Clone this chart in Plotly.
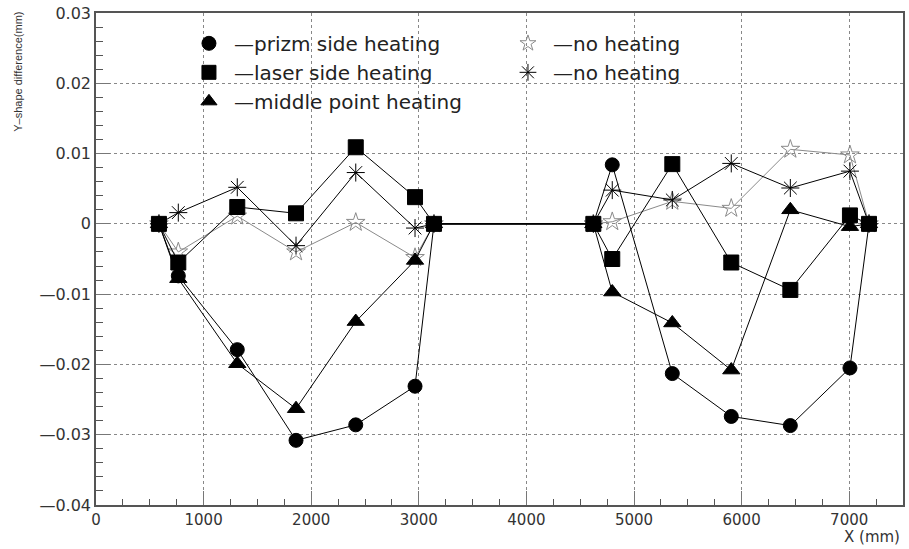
import plotly.graph_objects as go

# X positions (mm): left group and right group, each starting/ending at zero
x_pos = [585, 765, 1313, 1859, 2414, 2965, 3141,
         4622, 4798, 5356, 5904, 6453, 7007, 7184]

prizm = [0, -0.0074, -0.0179, -0.0308, -0.0286, -0.0231, 0,
         0, 0.0084, -0.0213, -0.0274, -0.0287, -0.0205, 0]
laser = [0, -0.0055, 0.0024, 0.0015, 0.0109, 0.0038, 0,
         0, -0.0050, 0.0085, -0.0055, -0.0094, 0.0012, 0]
middle = [0, -0.0078, -0.0199, -0.0263, -0.0139, -0.0052, 0,
          0, -0.0097, -0.0141, -0.0208, 0.0020, -0.0004, 0]
no_heat_star = [0, -0.0040, 0.0011, -0.0040, 0.0002, -0.0048, 0,
                0, 0.0003, 0.0032, 0.0022, 0.0106, 0.0098, 0]
no_heat_ast = [0, 0.0016, 0.0052, -0.0031, 0.0073, -0.0006, 0,
               0, 0.0048, 0.0034, 0.0086, 0.0051, 0.0075, 0]

y_tickvals = [-0.04, -0.03, -0.02, -0.01, 0, 0.01, 0.02, 0.03]
y_ticktext = ["\u20140.04", "\u20140.03", "\u20140.02", "\u20140.01", "0", "0.01", "0.02", "0.03"]
x_tickvals = [0, 1000, 2000, 3000, 4000, 5000, 6000, 7000]

legend_names = ["\u2014prizm side heating", "\u2014no heating", "\u2014laser side heating",
                "\u2014no heating", "\u2014middle point heating"]

fig = go.Figure()

series = [
    (no_heat_star, "star-open", "#8a8a8a", "#8a8a8a", 14),
    (no_heat_ast, "asterisk-open", "black", "black", 15),
    (laser, "square", "black", "black", 15),
    (middle, "triangle-up", "black", "black", 15),
    (prizm, "circle", "black", "black", 14),
]
for ys, sym, lc, mc, sz in series:
    fig.add_trace(go.Scatter(
        x=x_pos, y=ys, mode="lines+markers", showlegend=False,
        line=dict(color=lc, width=1),
        marker=dict(symbol=sym, size=sz, color=mc, line=dict(color=mc, width=1)),
    ))

# Legend-only traces (order fills rows: left column, right column)
leg_specs = [
    ("circle", "black", 14),
    ("star-open", "#8a8a8a", 12),
    ("square", "black", 14),
    ("asterisk-open", "black", 14),
    ("triangle-up", "black", 14),
]
for name, (sym, col, sz) in zip(legend_names, leg_specs):
    fig.add_trace(go.Scatter(
        x=[None], y=[None], mode="markers", name=name,
        marker=dict(symbol=sym, size=sz, color=col, line=dict(color=col, width=1)),
    ))

axis_font = dict(family="DejaVu Sans", size=15, color="#333")

fig.update_layout(
    width=909, height=549,
    margin=dict(l=96, r=6, t=13, b=44),
    plot_bgcolor="white", paper_bgcolor="white",
    font=dict(family="DejaVu Sans", color="#222"),
    showlegend=True,
    legend=dict(
        orientation="h", x=0.109, y=0.978, xanchor="left", yanchor="top",
        entrywidth=264, entrywidthmode="pixels",
        font=dict(family="DejaVu Sans", size=20, color="#222"),
        bgcolor="rgba(0,0,0,0)", itemwidth=40,
    ),
    xaxis=dict(
        range=[0, 7500], tickvals=x_tickvals, ticks="inside", ticklen=14,
        tickcolor="#777", tickwidth=1, automargin=False,
        minor=dict(dtick=250, ticks="inside", ticklen=6, tickcolor="#555", showgrid=False),
        showgrid=True, gridcolor="#888", griddash="dot", gridwidth=1,
        zeroline=False, showline=True, linecolor="#555", linewidth=1.5, mirror=True,
        tickfont=axis_font,
    ),
    yaxis=dict(
        range=[-0.04, 0.03], tickvals=y_tickvals, ticktext=y_ticktext,
        ticks="inside", ticklen=14, tickcolor="#777", tickwidth=1, automargin=False,
        minor=dict(dtick=0.002, ticks="inside", ticklen=7, tickcolor="#555", showgrid=False),
        showgrid=True, gridcolor="#888", griddash="dot", gridwidth=1,
        zeroline=False, showline=True, linecolor="#555", linewidth=1.5, mirror=True,
        tickfont=dict(family="DejaVu Sans", size=16, color="#333"),
    ),
    annotations=[
        dict(text="Y\u2013shape difference(mm)", xref="paper", yref="paper",
             x=-0.097, y=1.006, xanchor="center", yanchor="top", textangle=-90,
             showarrow=False, font=dict(family="Liberation Sans", size=11, color="#333")),
        dict(text="X (mm)", xref="paper", yref="paper",
             x=0.999, y=-0.0872, xanchor="right", yanchor="bottom",
             showarrow=False, font=dict(family="DejaVu Sans", size=15, color="#333")),
    ],
)

fig.write_html(
    "out.html",
    config={"displayModeBar": False},
    post_script="document.body.style.margin='0';document.body.style.overflow='hidden';",
)
